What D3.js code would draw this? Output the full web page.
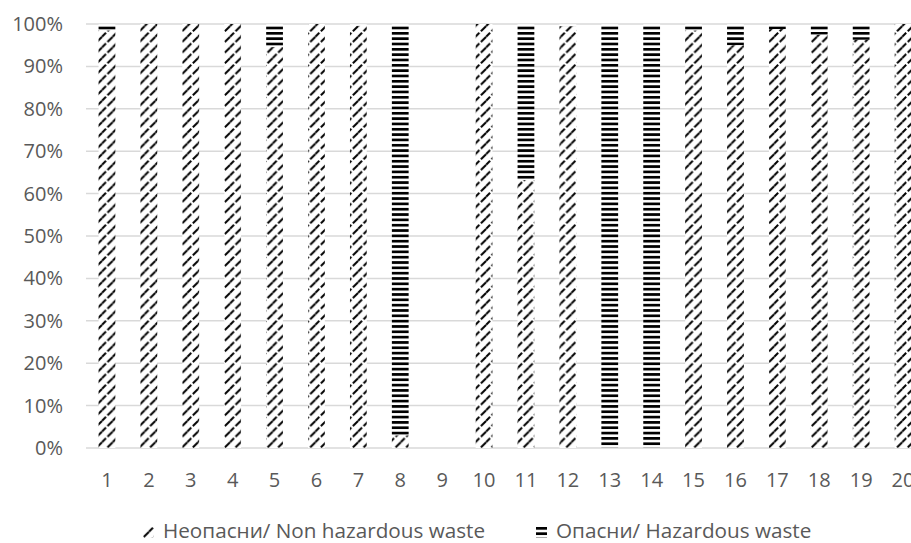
<!DOCTYPE html>
<html>
<head>
<meta charset="utf-8">
<script src="https://cdn.jsdelivr.net/npm/d3@7"></script>
<style>
  html, body { margin: 0; padding: 0; background: #fff; overflow: hidden; }
  svg { display: block; }
  text { font-family: "Open Sans", sans-serif; fill: #595959; }
</style>
</head>
<body>
<div id="chart"></div>
<script>
// values (share in %)
const categories = ['1','2','3','4','5','6','7','8','9','10','11','12','13','14','15','16','17','18','19','20'];
const nonHazardous = [98.5, 100, 100, 100, 94.6, 100, 99.6, 3, 0, 100, 63.2, 99.5, 0, 0, 98.5, 95, 98.8, 97.5, 96.3, 100];
const hazardous    = [1.5, 0, 0, 0, 5.4, 0, 0.4, 97, 0, 0, 36.8, 0.5, 100, 100, 1.5, 5, 1.2, 2.5, 3.7, 0];
const yTicks = [0, 10, 20, 30, 40, 50, 60, 70, 80, 90, 100];
const seriesNames = ['Неопасни/ Non hazardous waste', 'Опасни/ Hazardous waste'];

const width = 911, height = 543;
const margin = { top: 24, left: 86, bottom: 95 };

const svg = d3.select('#chart').append('svg')
    .attr('width', width)
    .attr('height', height);

const defs = svg.append('defs');

// dashed upward diagonal
const diag = defs.append('pattern')
    .attr('id', 'diag')
    .attr('patternUnits', 'userSpaceOnUse')
    .attr('width', 10.67)
    .attr('height', 10.67);
diag.append('rect').attr('width', 10.67).attr('height', 10.67).attr('fill', '#fff');
diag.append('path')
    .attr('d', 'M1.5,9.2 L5.2,5.5 M6.8,3.9 L9.2,1.5')
    .attr('stroke', '#000')
    .attr('stroke-width', 2)
    .attr('stroke-linecap', 'square');

// dark horizontal
const horiz = defs.append('pattern')
    .attr('id', 'horiz')
    .attr('patternUnits', 'userSpaceOnUse')
    .attr('width', 10)
    .attr('height', 5.33);
horiz.append('rect').attr('width', 10).attr('height', 5.33).attr('fill', '#fff');
horiz.append('rect').attr('y', 0).attr('width', 10).attr('height', 2.7).attr('fill', '#000');

const x = d3.scaleBand()
    .domain(categories)
    .range([margin.left, margin.left + 41.9 * 20])
    .paddingInner(0.6)
    .paddingOuter(0.3);

const y = d3.scaleLinear()
    .domain([0, 100])
    .range([448, margin.top]);

// gridlines
svg.append('g')
    .selectAll('line')
    .data(yTicks)
    .enter().append('line')
    .attr('x1', margin.left)
    .attr('x2', width + 20)
    .attr('y1', d => y(d))
    .attr('y2', d => y(d))
    .attr('stroke', '#d9d9d9')
    .attr('stroke-width', 1.5);

// y labels
svg.append('g')
    .selectAll('text')
    .data(yTicks)
    .enter().append('text')
    .attr('x', 63)
    .attr('y', d => y(d))
    .attr('dy', '0.35em')
    .attr('text-anchor', 'end')
    .style('font-size', '20px')
    .text(d => d + '%');

// stacked bars
const rows = categories.map((c, i) => ({ cat: c, non: nonHazardous[i], haz: hazardous[i] }));
const stack = d3.stack().keys(['non', 'haz'])(rows);
const fills = ['url(#diag)', 'url(#horiz)'];

svg.append('g')
    .selectAll('g')
    .data(stack)
    .enter().append('g')
    .attr('fill', (d, i) => fills[i])
    .selectAll('rect')
    .data(d => d)
    .enter().append('rect')
    .attr('x', d => x(d.data.cat))
    .attr('width', x.bandwidth())
    .attr('y', d => y(d[1]))
    .attr('height', d => y(d[0]) - y(d[1]));

// x labels (the last one runs off the right edge, as in the original)
svg.append('g')
    .selectAll('text')
    .data(categories)
    .enter().append('text')
    .attr('x', d => x(d) + x.bandwidth() / 2)
    .attr('y', 487)
    .attr('text-anchor', 'middle')
    .style('font-size', '20px')
    .text(d => d);

// legend
const legendX = [143, 536];
const legend = svg.append('g')
    .selectAll('g')
    .data(seriesNames)
    .enter().append('g')
    .attr('transform', (d, i) => `translate(${legendX[i]},527)`);

legend.append('rect')
    .attr('width', 11)
    .attr('height', 11)
    .attr('fill', (d, i) => fills[i]);

legend.append('text')
    .attr('x', 20)
    .attr('y', 11)
    .style('font-size', '20.7px')
    .text(d => d);
</script>
</body>
</html>
